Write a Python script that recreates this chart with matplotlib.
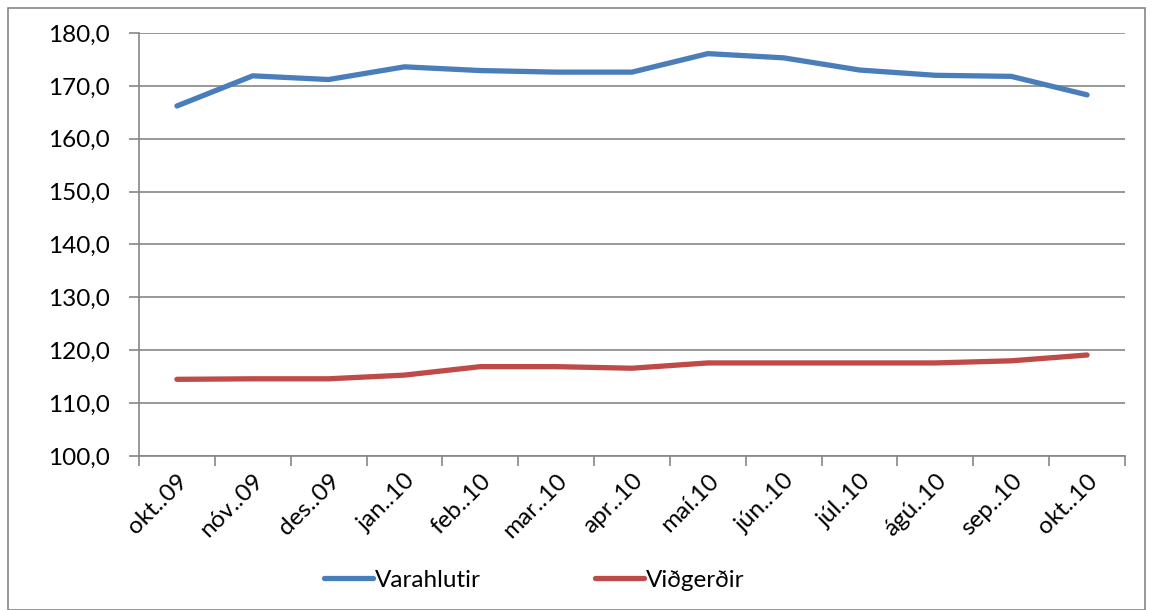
import matplotlib
matplotlib.use("Agg")
import matplotlib.pyplot as plt
from matplotlib.patches import Rectangle
from matplotlib.lines import Line2D
import numpy as np

categories = ["okt..09", "nóv..09", "des..09", "jan..10", "feb..10", "mar..10", "apr..10",
              "maí.10", "jún..10", "júl..10", "ágú..10", "sep..10", "okt..10"]
varahlutir = [166.2, 171.9, 171.2, 173.6, 172.9, 172.6, 172.6, 176.1, 175.3, 173.0, 172.0, 171.8, 168.3]
vidgerdir = [114.5, 114.6, 114.6, 115.3, 116.9, 116.9, 116.6, 117.6, 117.6, 117.6, 117.6, 118.0, 119.1]
yticks = [100, 110, 120, 130, 140, 150, 160, 170, 180]

plt.rcParams['font.family'] = ['Lato', 'DejaVu Sans']

W, H = 1154, 610
FS = 17.5
fig = plt.figure(figsize=(W / 100, H / 100), dpi=100)
ax = fig.add_axes([139 / W, 1 - 456 / H, (1125 - 139) / W, (456 - 33) / H])

x = np.arange(len(categories))
blue = "#4a7ebb"
red = "#be4b48"
ax.plot(x, varahlutir, color=blue, lw=3.8, solid_capstyle="round", label="Varahlutir")
ax.plot(x, vidgerdir, color=red, lw=3.8, solid_capstyle="round", label="Viðgerðir")

ax.set_xlim(-0.5, len(categories) - 0.5)
ax.set_ylim(100, 180)
ax.set_yticks(yticks)
ax.set_yticklabels([f"{v:.1f}".replace(".", ",") for v in yticks], fontsize=FS)
ax.yaxis.grid(True, color="#868686", lw=1.2)
ax.set_axisbelow(True)

ax.set_xticks(np.arange(len(categories) + 1) - 0.5)
ax.set_xticklabels([])
ax.set_xticks(x, minor=True)
ax.set_xticklabels(categories, minor=True, rotation=45, ha="right", va="top",
                   rotation_mode="anchor", fontsize=FS)
ax.tick_params(axis="x", which="minor", length=0, pad=10)
ax.tick_params(axis="x", which="major", length=7, width=1.2, color="#868686", direction="out")
ax.tick_params(axis="y", length=7, width=1.2, color="#868686", direction="out", pad=14)

for s in ["top", "right"]:
    ax.spines[s].set_visible(False)
for s in ["left", "bottom"]:
    ax.spines[s].set_color("#868686")
    ax.spines[s].set_linewidth(1.2)

handles = [Line2D([0], [0], color=blue, lw=3.8, solid_capstyle="round"),
           Line2D([0], [0], color=red, lw=3.8, solid_capstyle="round")]
fig.legend(handles, ["Varahlutir", "Viðgerðir"], loc="center", bbox_to_anchor=(0.463, 1 - 580 / H),
           ncol=2, frameon=False, fontsize=FS, handlelength=2.0, handletextpad=0.1,
           columnspacing=4.7)

fig.patches.append(Rectangle((8 / W, 0), (W - 9) / W - 8 / W, 1 - 8 / H, transform=fig.transFigure,
                             fill=False, edgecolor="#868686", lw=1.2))

fig.savefig("out.png", dpi=100, facecolor="white")
